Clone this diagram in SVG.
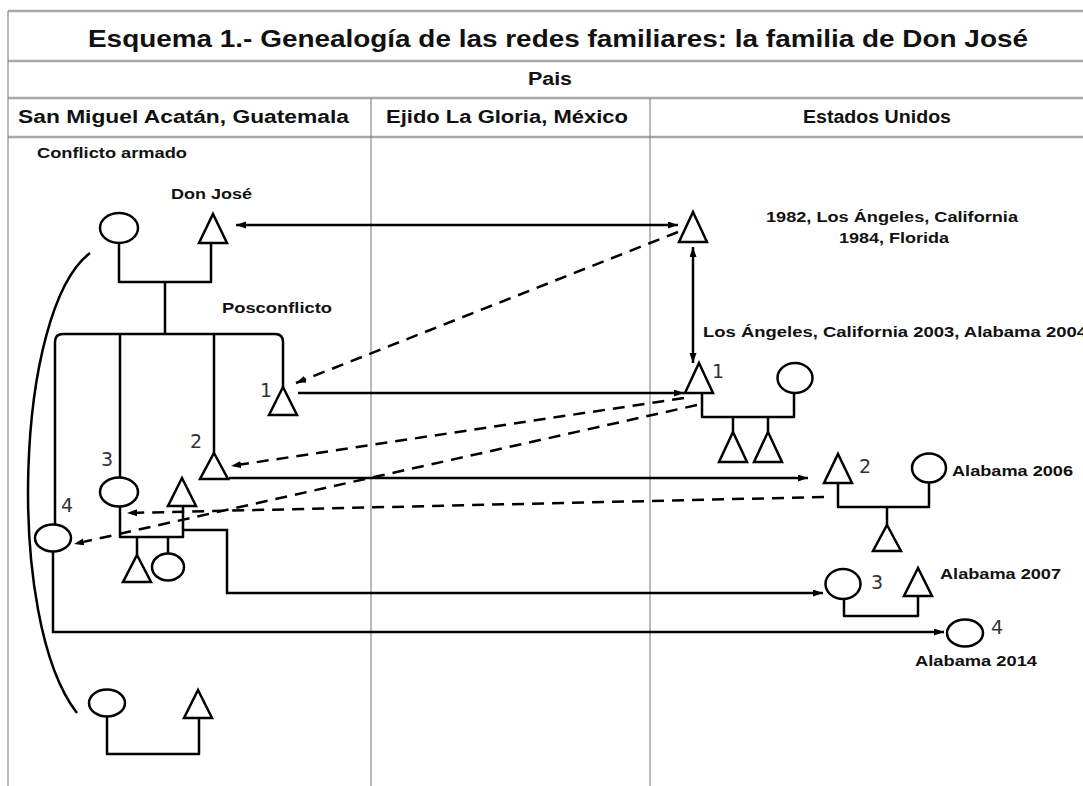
<svg xmlns="http://www.w3.org/2000/svg" width="1083" height="786" viewBox="0 0 1083 786">
  <defs>
    <marker id="ah" markerUnits="userSpaceOnUse" markerWidth="12" markerHeight="8" refX="10" refY="3.5" orient="auto-start-reverse">
      <path d="M0,0 L10,3.5 L0,7 z" fill="#000"/>
    </marker>
    <style>
      .grid-h { stroke: #a8a8a8; stroke-width: 2.5; fill: none; }
      .grid-v { stroke: #8a8a8a; stroke-width: 1.2; fill: none; }
      .title { font-family: "Liberation Sans", Arial, sans-serif; font-weight: bold; font-size: 23px; fill: #111; }
      .head { font-family: "Liberation Sans", Arial, sans-serif; font-weight: bold; font-size: 18px; fill: #111; }
      .lbl { font-family: "Liberation Sans", Arial, sans-serif; font-weight: bold; font-size: 14.5px; fill: #111; }
      .num { font-family: "DejaVu Sans", sans-serif; font-size: 19px; fill: #333; text-anchor: middle; }
      .shape { fill: #fff; stroke: #000; stroke-width: 2.5; }
      .kin { fill: none; stroke: #000; stroke-width: 2.5; stroke-linejoin: round; }
      .mig { fill: none; stroke: #000; stroke-width: 2.5; }
      .dash { fill: none; stroke: #000; stroke-width: 2.5; stroke-dasharray: 12 8; }
    </style>
  </defs>
  <rect width="1083" height="786" fill="#fff"/>

  <!-- table frame -->
  <g id="table">
    <line class="grid-h" x1="8" y1="11" x2="1083" y2="11"/>
    <line class="grid-h" x1="8" y1="61" x2="1083" y2="61"/>
    <line class="grid-h" x1="8" y1="98" x2="1083" y2="98"/>
    <line class="grid-h" x1="8" y1="137" x2="1083" y2="137"/>
    <line class="grid-v" x1="8" y1="11" x2="8" y2="786"/>
    <line class="grid-v" x1="371" y1="98" x2="371" y2="786"/>
    <line class="grid-v" x1="650" y1="98" x2="650" y2="786"/>
    <text class="title" x="88" y="47" textLength="940" lengthAdjust="spacingAndGlyphs">Esquema 1.- Genealogía de las redes familiares: la familia de Don José</text>
    <text class="head" x="528" y="85" textLength="44" lengthAdjust="spacingAndGlyphs">Pais</text>
    <text class="head" x="18" y="123" textLength="331" lengthAdjust="spacingAndGlyphs">San Miguel Acatán, Guatemala</text>
    <text class="head" x="386" y="123" textLength="242" lengthAdjust="spacingAndGlyphs">Ejido La Gloria, México</text>
    <text class="head" x="803" y="123" textLength="148" lengthAdjust="spacingAndGlyphs">Estados Unidos</text>
  </g>

  <!-- labels -->
  <g id="labels">
    <text class="lbl" x="37" y="158" textLength="150" lengthAdjust="spacingAndGlyphs">Conflicto armado</text>
    <text class="lbl" x="171" y="199" textLength="81" lengthAdjust="spacingAndGlyphs">Don José</text>
    <text class="lbl" x="222" y="313" textLength="110" lengthAdjust="spacingAndGlyphs">Posconflicto</text>
    <text class="lbl" x="766" y="222" textLength="252" lengthAdjust="spacingAndGlyphs">1982, Los Ángeles, California</text>
    <text class="lbl" x="839" y="243" textLength="110" lengthAdjust="spacingAndGlyphs">1984, Florida</text>
    <text class="lbl" x="703" y="337" textLength="384" lengthAdjust="spacingAndGlyphs">Los Ángeles, California 2003, Alabama 2004</text>
    <text class="lbl" x="952" y="476" textLength="121" lengthAdjust="spacingAndGlyphs">Alabama 2006</text>
    <text class="lbl" x="940" y="579" textLength="121" lengthAdjust="spacingAndGlyphs">Alabama 2007</text>
    <text class="lbl" x="915" y="666" textLength="122" lengthAdjust="spacingAndGlyphs">Alabama 2014</text>
    <text class="num" x="266" y="397">1</text>
    <text class="num" x="718" y="378">1</text>
    <text class="num" x="196" y="448">2</text>
    <text class="num" x="865" y="473">2</text>
    <text class="num" x="107" y="466">3</text>
    <text class="num" x="877" y="589">3</text>
    <text class="num" x="67" y="512">4</text>
    <text class="num" x="997" y="634">4</text>
  </g>

  <!-- kinship and migration connectors -->
  <g id="connectors">
    <!-- Don José couple and siblings -->
    <path class="kin" d="M119,243 V282 H211 V243"/>
    <path class="kin" d="M165,282 V334"/>
    <path class="kin" d="M55,524 V342 Q55,334 63,334 H275 Q283,334 283,342 V387"/>
    <path class="kin" d="M120,334 V478"/>
    <path class="kin" d="M214,334 V453"/>
    <!-- couple 3 (left) -->
    <path class="kin" d="M120,507 V537 H183 V507"/>
    <path class="kin" d="M137,537 V555"/>
    <path class="kin" d="M168,537 V553"/>
    <!-- bottom couple -->
    <path class="kin" d="M107,717 V754 H199 V718"/>
    <!-- bracket curve -->
    <path class="kin" d="M90,253 C15,310 5,620 77,713"/>
    <!-- US couple 1 -->
    <path class="kin" d="M702,393 V417 H794 V393"/>
    <path class="kin" d="M733,417 V432"/>
    <path class="kin" d="M768,417 V432"/>
    <!-- US couple 2 -->
    <path class="kin" d="M838,483 V507 H929 V483"/>
    <path class="kin" d="M887,507 V525"/>
    <!-- US couple 3 -->
    <path class="kin" d="M844,599 V616 H918 V596"/>

    <!-- solid migration arrows -->
    <line class="mig" x1="236" y1="225" x2="678" y2="225" marker-start="url(#ah)" marker-end="url(#ah)"/>
    <line class="mig" x1="693" y1="247" x2="693" y2="363" marker-start="url(#ah)" marker-end="url(#ah)"/>
    <line class="mig" x1="298" y1="393" x2="684" y2="393" marker-end="url(#ah)"/>
    <line class="mig" x1="229" y1="478" x2="808" y2="478" marker-end="url(#ah)"/>
    <path class="mig" d="M183,530 H227 V593 H823" marker-end="url(#ah)"/>
    <path class="mig" d="M53,552 V632 H944" marker-end="url(#ah)"/>

    <!-- dashed return arrows -->
    <line class="dash" x1="678" y1="232" x2="296" y2="383" marker-end="url(#ah)"/>
    <line class="dash" x1="684" y1="398" x2="231" y2="466" marker-end="url(#ah)"/>
    <line class="dash" x1="697" y1="405" x2="74" y2="544" marker-end="url(#ah)"/>
    <line class="dash" x1="824" y1="497" x2="127" y2="513" marker-end="url(#ah)"/>
  </g>

  <!-- nodes -->
  <g id="n-esposa-don-jose"><ellipse class="shape" cx="119" cy="228" rx="19" ry="15"/></g>
  <g id="n-don-jose"><path class="shape" d="M213,214 L227,243 L199,243 z"/></g>
  <g id="n-don-jose-eeuu"><path class="shape" d="M693,212 L707,242 L679,242 z"/></g>
  <g id="n-hijo1"><path class="shape" d="M283,387 L297,415 L269,415 z"/></g>
  <g id="n-hijo2"><path class="shape" d="M214,453 L228,479 L200,479 z"/></g>
  <g id="n-hija3"><ellipse class="shape" cx="119" cy="492" rx="19" ry="14.5"/></g>
  <g id="n-esposo-hija3"><path class="shape" d="M182,478 L196,506 L168,506 z"/></g>
  <g id="n-nieto3a"><path class="shape" d="M137,555 L151,582 L123,582 z"/></g>
  <g id="n-nieta3b"><ellipse class="shape" cx="168" cy="567" rx="16" ry="13.5"/></g>
  <g id="n-hija4"><ellipse class="shape" cx="53" cy="538" rx="18" ry="13.5"/></g>
  <g id="n-pareja-abajo-mujer"><ellipse class="shape" cx="107" cy="703" rx="18" ry="13.5"/></g>
  <g id="n-pareja-abajo-hombre"><path class="shape" d="M198,690 L212,718 L184,718 z"/></g>
  <g id="n-hijo1-eeuu"><path class="shape" d="M699,363 L713,393 L685,393 z"/></g>
  <g id="n-esposa-hijo1-eeuu"><ellipse class="shape" cx="795" cy="378" rx="17.5" ry="15"/></g>
  <g id="n-nieto1a"><path class="shape" d="M733,432 L747,462 L719,462 z"/></g>
  <g id="n-nieto1b"><path class="shape" d="M768,432 L782,462 L754,462 z"/></g>
  <g id="n-hijo2-eeuu"><path class="shape" d="M838,454 L852,483 L824,483 z"/></g>
  <g id="n-esposa-hijo2-eeuu"><ellipse class="shape" cx="929" cy="468" rx="17" ry="14.5"/></g>
  <g id="n-nieto2"><path class="shape" d="M887,525 L901,551 L873,551 z"/></g>
  <g id="n-hija3-eeuu"><ellipse class="shape" cx="843" cy="584" rx="17.5" ry="15"/></g>
  <g id="n-esposo-hija3-eeuu"><path class="shape" d="M918,568 L932,596 L904,596 z"/></g>
  <g id="n-hija4-eeuu"><ellipse class="shape" cx="965" cy="633" rx="18" ry="13.5"/></g>
</svg>
